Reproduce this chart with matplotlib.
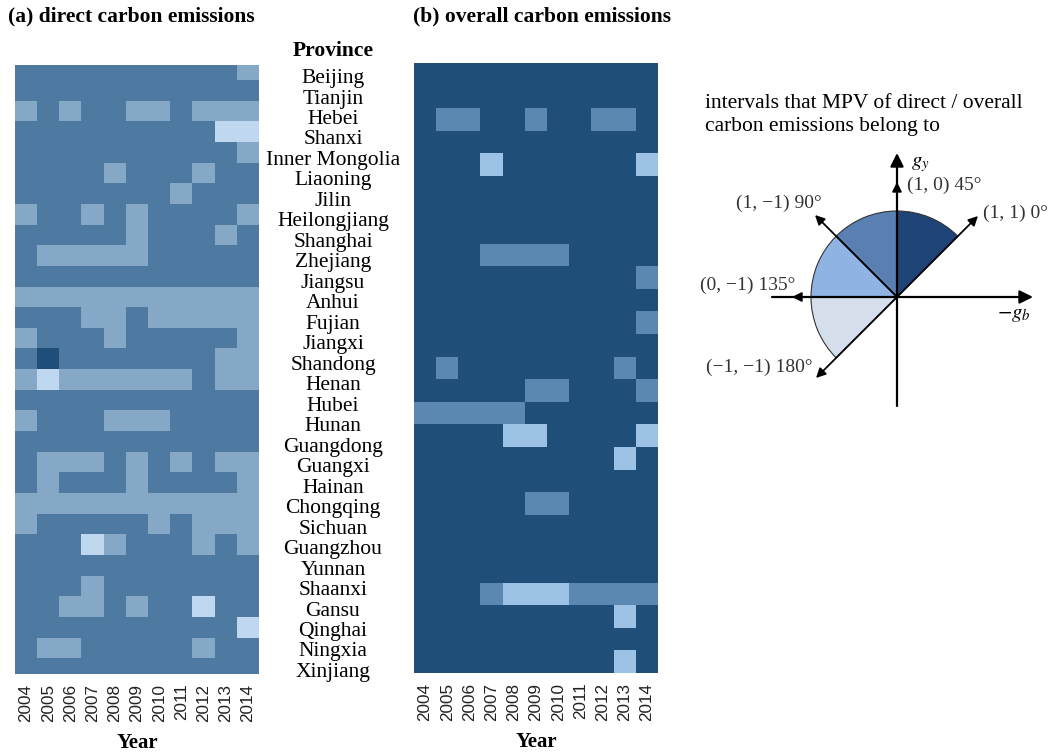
import matplotlib

matplotlib.use("Agg")
import matplotlib.pyplot as plt
from matplotlib.colors import ListedColormap
from matplotlib.patches import Wedge

plt.rcParams["font.family"] = "Liberation Serif"
plt.rcParams["mathtext.fontset"] = "stix"

W, H = 1049, 756

YEARS = [str(y) for y in range(2004, 2015)]

PROVINCES = [
    "Beijing", "Tianjin", "Hebei", "Shanxi", "Inner Mongolia", "Liaoning",
    "Jilin", "Heilongjiang", "Shanghai", "Zhejiang", "Jiangsu", "Anhui",
    "Fujian", "Jiangxi", "Shandong", "Henan", "Hubei", "Hunan", "Guangdong",
    "Guangxi", "Hainan", "Chongqing", "Sichuan", "Guangzhou", "Yunnan",
    "Shaanxi", "Gansu", "Qinghai", "Ningxia", "Xinjiang",
]

# interval codes: 0 -> 0°, 1 -> 45°, 2 -> 90°, 3 -> 135°
DIRECT = [
    [1, 1, 1, 1, 1, 1, 1, 1, 1, 1, 2],
    [1, 1, 1, 1, 1, 1, 1, 1, 1, 1, 1],
    [2, 1, 2, 1, 1, 2, 2, 1, 2, 2, 2],
    [1, 1, 1, 1, 1, 1, 1, 1, 1, 3, 3],
    [1, 1, 1, 1, 1, 1, 1, 1, 1, 1, 2],
    [1, 1, 1, 1, 2, 1, 1, 1, 2, 1, 1],
    [1, 1, 1, 1, 1, 1, 1, 2, 1, 1, 1],
    [2, 1, 1, 2, 1, 2, 1, 1, 1, 1, 2],
    [1, 1, 1, 1, 1, 2, 1, 1, 1, 2, 1],
    [1, 2, 2, 2, 2, 2, 1, 1, 1, 1, 1],
    [1, 1, 1, 1, 1, 1, 1, 1, 1, 1, 1],
    [2, 2, 2, 2, 2, 2, 2, 2, 2, 2, 2],
    [1, 1, 1, 2, 2, 1, 2, 2, 2, 2, 2],
    [2, 1, 1, 1, 2, 1, 1, 1, 1, 1, 2],
    [1, 0, 1, 1, 1, 1, 1, 1, 1, 2, 2],
    [2, 3, 2, 2, 2, 2, 2, 2, 1, 2, 2],
    [1, 1, 1, 1, 1, 1, 1, 1, 1, 1, 1],
    [2, 1, 1, 1, 2, 2, 2, 1, 1, 1, 1],
    [1, 1, 1, 1, 1, 1, 1, 1, 1, 1, 1],
    [1, 2, 2, 2, 1, 2, 1, 2, 1, 2, 2],
    [1, 2, 1, 1, 1, 2, 1, 1, 1, 1, 2],
    [2, 2, 2, 2, 2, 2, 2, 2, 2, 2, 2],
    [2, 1, 1, 1, 1, 1, 2, 1, 2, 2, 2],
    [1, 1, 1, 3, 2, 1, 1, 1, 2, 1, 2],
    [1, 1, 1, 1, 1, 1, 1, 1, 1, 1, 1],
    [1, 1, 1, 2, 1, 1, 1, 1, 1, 1, 1],
    [1, 1, 2, 2, 1, 2, 1, 1, 3, 1, 1],
    [1, 1, 1, 1, 1, 1, 1, 1, 1, 1, 3],
    [1, 2, 2, 1, 1, 1, 1, 1, 2, 1, 1],
    [1, 1, 1, 1, 1, 1, 1, 1, 1, 1, 1],
]

OVERALL = [
    [0, 0, 0, 0, 0, 0, 0, 0, 0, 0, 0],
    [0, 0, 0, 0, 0, 0, 0, 0, 0, 0, 0],
    [0, 1, 1, 0, 0, 1, 0, 0, 1, 1, 0],
    [0, 0, 0, 0, 0, 0, 0, 0, 0, 0, 0],
    [0, 0, 0, 2, 0, 0, 0, 0, 0, 0, 2],
    [0, 0, 0, 0, 0, 0, 0, 0, 0, 0, 0],
    [0, 0, 0, 0, 0, 0, 0, 0, 0, 0, 0],
    [0, 0, 0, 0, 0, 0, 0, 0, 0, 0, 0],
    [0, 0, 0, 1, 1, 1, 1, 0, 0, 0, 0],
    [0, 0, 0, 0, 0, 0, 0, 0, 0, 0, 1],
    [0, 0, 0, 0, 0, 0, 0, 0, 0, 0, 0],
    [0, 0, 0, 0, 0, 0, 0, 0, 0, 0, 1],
    [0, 0, 0, 0, 0, 0, 0, 0, 0, 0, 0],
    [0, 1, 0, 0, 0, 0, 0, 0, 0, 1, 0],
    [0, 0, 0, 0, 0, 1, 1, 0, 0, 0, 1],
    [1, 1, 1, 1, 1, 0, 0, 0, 0, 0, 0],
    [0, 0, 0, 0, 2, 2, 0, 0, 0, 0, 2],
    [0, 0, 0, 0, 0, 0, 0, 0, 0, 2, 0],
    [0, 0, 0, 0, 0, 0, 0, 0, 0, 0, 0],
    [0, 0, 0, 0, 0, 1, 1, 0, 0, 0, 0],
    [0, 0, 0, 0, 0, 0, 0, 0, 0, 0, 0],
    [0, 0, 0, 0, 0, 0, 0, 0, 0, 0, 0],
    [0, 0, 0, 0, 0, 0, 0, 0, 0, 0, 0],
    [0, 0, 0, 1, 2, 2, 2, 1, 1, 1, 1],
    [0, 0, 0, 0, 0, 0, 0, 0, 0, 2, 0],
    [0, 0, 0, 0, 0, 0, 0, 0, 0, 0, 0],
    [0, 0, 0, 0, 0, 0, 0, 0, 0, 2, 0],
]

DIRECT_COLORS = ["#1f4e79", "#4e79a0", "#86a8c7", "#c0d8ef"]
OVERALL_COLORS = ["#1f4e78", "#5b88b0", "#9cc3e6", "#c0d8ef"]

# quarter-circle legend: (start angle, end angle, colour)
SECTOR_START = [45, 90, 135, 180]
SECTOR_END = [90, 135, 180, 225]
SECTOR_COLORS = ["#1e4478", "#5a7fb3", "#8fb4e3", "#d5dfec"]


def box(x0, y0, x1, y1):
    """Pixel rectangle (top-left origin) -> figure fraction [l, b, w, h]."""
    return [x0 / W, 1 - y1 / H, (x1 - x0) / W, (y1 - y0) / H]


def draw_heatmap(ax, values, colors, ylim):
    ax.imshow(values, cmap=ListedColormap(colors), vmin=-0.5, vmax=3.5,
              aspect="auto", interpolation="nearest")
    ax.set_ylim(*ylim)
    ax.set_yticks([])
    ax.set_xticks(range(len(YEARS)))
    ax.set_xticklabels(YEARS, rotation=90, family="Liberation Sans",
                       fontsize=12.3, color="#222222")
    ax.tick_params(axis="x", length=0, pad=7)
    for spine in ax.spines.values():
        spine.set_visible(False)
    ax.set_xlabel("Year", fontsize=15, fontweight="bold", labelpad=8)


fig = plt.figure(figsize=(W / 100, H / 100), dpi=100)

ax_a = fig.add_axes(box(15, 65, 259, 674))
draw_heatmap(ax_a, DIRECT, DIRECT_COLORS, (len(DIRECT) - 0.74, -0.23))

ax_b = fig.add_axes(box(414, 63, 658, 673))
draw_heatmap(ax_b, OVERALL, OVERALL_COLORS, (len(OVERALL) - 0.5, -0.5))

fig.text(8 / W, 1 - 16 / H, "(a) direct carbon emissions", fontsize=15.5,
         fontweight="bold", ha="left", va="center")
fig.text(413 / W, 1 - 16 / H, "(b) overall carbon emissions", fontsize=15.5,
         fontweight="bold", ha="left", va="center")

# province names shared by both panels
ax_lab = fig.add_axes(box(283, 65.8, 383, 680.2))
ax_lab.axis("off")
ax_lab.set_xlim(0, 1)
ax_lab.set_ylim(len(PROVINCES) - 0.5, -0.5)
for i, name in enumerate(PROVINCES):
    ax_lab.text(0.5, i, name, ha="center", va="center_baseline", fontsize=15.5)
fig.text(333 / W, 1 - 51 / H, "Province", fontsize=15.5, fontweight="bold",
         ha="center", va="center")

# legend: direction diagram of MPV intervals
fig.text(705 / W, 1 - 103 / H, "intervals that MPV of direct / overall",
         fontsize=15.5, ha="left", va="center")
fig.text(705 / W, 1 - 127 / H, "carbon emissions belong to",
         fontsize=15.5, ha="left", va="center")

ox, oy = 897, 297
ax_d = fig.add_axes(box(690, 140, 1049, 420))
ax_d.set_xlim(690 - ox, 1049 - ox)
ax_d.set_ylim(-(420 - oy), oy - 140)
ax_d.axis("off")

radius = 86
for start, end, color in zip(SECTOR_START, SECTOR_END, SECTOR_COLORS):
    ax_d.add_patch(Wedge((0, 0), radius, start, end, facecolor=color,
                         edgecolor="#333333", linewidth=0.8))

big = dict(arrowstyle="-|>", color="black", lw=1.6, mutation_scale=20,
           shrinkA=0, shrinkB=0)
small = dict(arrowstyle="-|>", color="black", lw=1.3, mutation_scale=14,
             shrinkA=0, shrinkB=0)
ax_d.annotate("", xy=(0, 144), xytext=(0, -109), arrowprops=big)
ax_d.annotate("", xy=(136, 0), xytext=(-125, 0), arrowprops=big)
ax_d.annotate("", xy=(0, 115), xytext=(0, 0), arrowprops=small)
ax_d.annotate("", xy=(-105, 0), xytext=(0, 0), arrowprops=small)
ax_d.annotate("", xy=(81, 81), xytext=(0, 0), arrowprops=small)
ax_d.annotate("", xy=(-82, 82), xytext=(0, 0), arrowprops=small)
ax_d.annotate("", xy=(-81, -81), xytext=(0, 0), arrowprops=small)

lab = dict(fontsize=14, color="#333333", va="center")
ax_d.text(14, 132, "$g_y$", ha="left", fontsize=15, va="center")
ax_d.text(10, 112, "(1, 0) 45°", ha="left", **lab)
ax_d.text(-75, 94, "(1, −1) 90°", ha="right", **lab)
ax_d.text(86, 84, "(1, 1) 0°", ha="left", **lab)
ax_d.text(-102, 12, "(0, −1) 135°", ha="right", **lab)
ax_d.text(117, -18, "$-g_b$", ha="center", fontsize=15, va="center")
ax_d.text(-138, -70, "(−1, −1) 180°", ha="center", **lab)

fig.savefig("out.png", dpi=100)
